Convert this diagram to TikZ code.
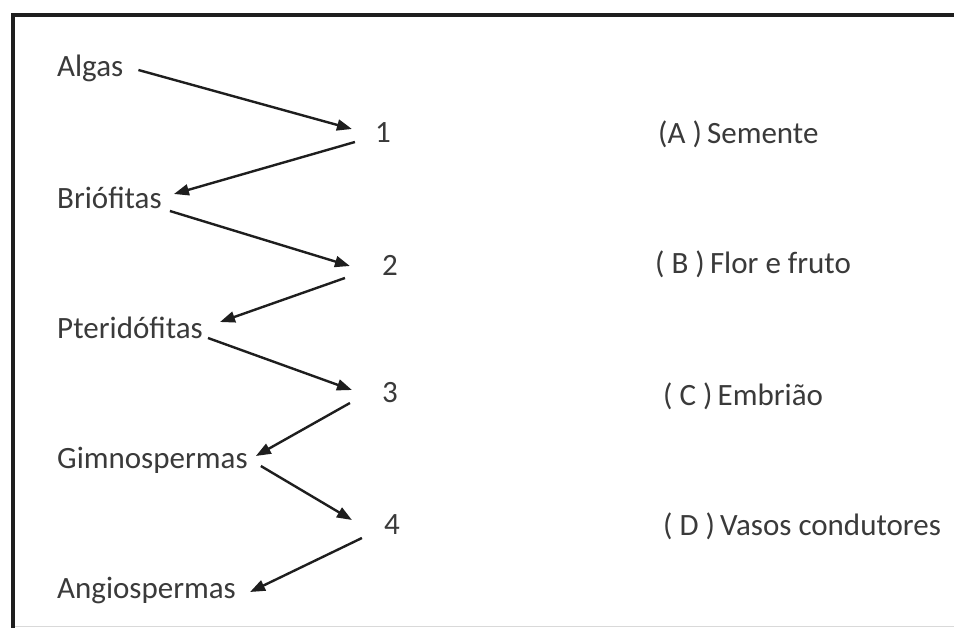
\documentclass[tikz,border=0pt]{standalone}
\usepackage{fontspec}
\setmainfont{Carlito}
\usetikzlibrary{calc,arrows.meta}
\definecolor{txt}{RGB}{58,58,58}
\definecolor{ink}{RGB}{30,30,30}
\begin{document}
\begin{tikzpicture}[x=1pt,y=-1pt,
  lbl/.style={inner sep=0pt,anchor=west,text=txt,font=\fontsize{31}{36}\selectfont},
  num/.style={inner sep=0pt,text=txt,font=\fontsize{31}{36}\selectfont},
  conn/.style={draw=ink,line width=2.4pt,-{Triangle[length=15pt,width=11pt]}}]
\useasboundingbox (0,0) rectangle (954,628);
\fill[white] (0,0) rectangle (954,628);
% frame
\draw[line width=4pt,ink] (954,15) -- (13,15) -- (13,628);
\draw[line width=1pt,black!15] (15,626.5) -- (954,626.5);

% groups of plants
\node[lbl] (alg) at (57,68) {Algas};
\node[lbl] (bri) at (57,198) {Briófitas};
\node[lbl] (pte) at (57,328) {Pteridófitas};
\node[lbl] (gim) at (57,460) {Gimnospermas};
\node[lbl] (ang) at (57,590) {Angiospermas};

% numbered slots
\node[num] (n1) at (383,133) {1};
\node[num] (n2) at (390,265) {2};
\node[num] (n3) at (390,393) {3};
\node[num] (n4) at (392,525) {4};

% features
\node[lbl] (fa) at (658,134) {(A )\,Semente};
\node[lbl] (fb) at (655,264) {( B )\,Flor e fruto};
\node[lbl] (fc) at (663,396) {( C )\,Embrião};
\node[lbl] (fd) at (663,526) {( D )\,Vasos condutores};

% zig-zag connectors
\draw[conn] ($(alg.east)+(15,2)$) -- ($(n1.west)+(-23,-4)$);
\draw[conn] ($(n1.west)+(-20,9)$) -- ($(bri.east)+(12,-4)$);
\draw[conn] ($(bri.east)+(8,13)$) -- ($(n2.west)+(-32,1)$);
\draw[conn] ($(n2.west)+(-37,13)$) -- ($(pte.east)+(17,-6)$);
\draw[conn] ($(pte.east)+(5,10)$) -- ($(n3.west)+(-30,-3)$);
\draw[conn] ($(n3.west)+(-32,10)$) -- ($(gim.east)+(8,-4)$);
\draw[conn] ($(gim.east)+(13,6)$) -- ($(n4.west)+(-32,-5)$);
\draw[conn] ($(n4.west)+(-22,13)$) -- ($(ang.east)+(14,2)$);
\end{tikzpicture}
\end{document}
